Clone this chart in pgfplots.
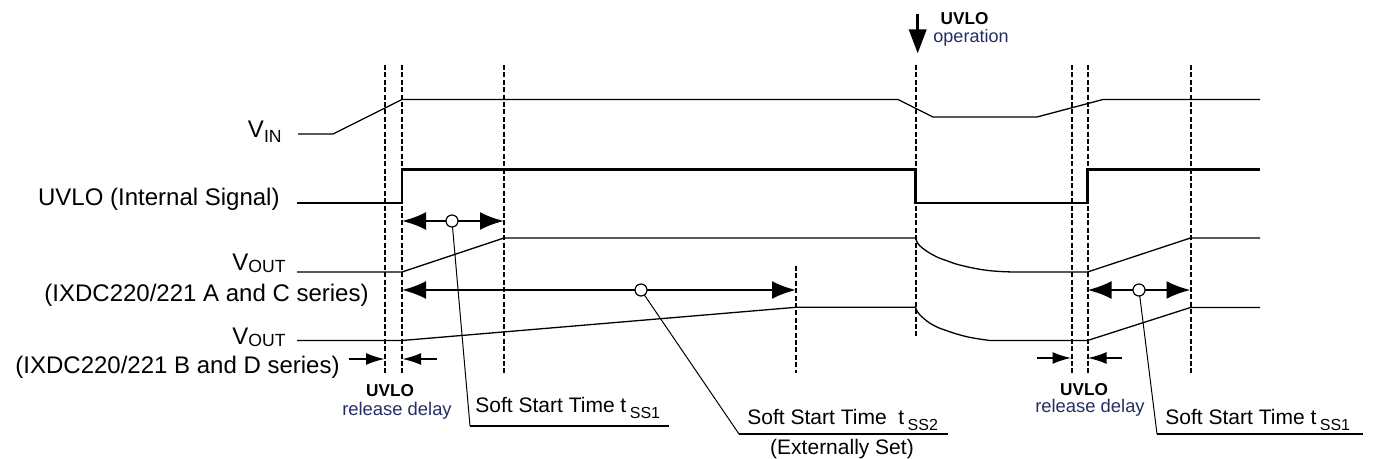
\documentclass[border=0pt]{standalone}
\usepackage{fontspec}
\setmainfont{Liberation Sans}
\usepackage{pgfplots}
\pgfplotsset{compat=1.18}
\usetikzlibrary{arrows.meta}
\definecolor{lbl}{RGB}{35,45,100}
\tikzset{
  wave/.style={black, line width=0.65pt},
  uvlo/.style={black, line width=1.2pt},
  dsh/.style={black, line width=1pt, dash pattern=on 2.5pt off 1.2pt},
  dim/.style={black, line width=1.3pt, {Latex[length=12pt,width=9pt]}-{Latex[length=12pt,width=9pt]}},
  rel/.style={black, line width=1.1pt, -{Latex[length=9.5pt,width=6pt]}},
  lead/.style={black, line width=0.5pt},
  uline/.style={black, line width=0.9pt},
  big/.style={inner sep=0pt, font=\fontsize{12}{14}\selectfont},
  small/.style={inner sep=0pt, font=\fontsize{9.2}{10}\selectfont},
  sst/.style={inner sep=0pt, font=\fontsize{10.5}{12}\selectfont},
}
\newcommand{\sub}[2]{\raisebox{#1}{\fontsize{8.8}{9}\selectfont #2}}
\newcommand{\ssub}[1]{\raisebox{-3pt}{\fontsize{8}{8}\selectfont #1}}
\begin{document}
\begin{tikzpicture}
\begin{axis}[width=688pt,height=229.5pt,scale only axis,hide axis,
  xmin=0,xmax=1376,ymin=0,ymax=459,y dir=reverse,clip=false]
% dashed guide lines
\addplot[dsh] coordinates {(385,65) (385,373)};
\addplot[dsh] coordinates {(402,65) (402,373)};
\addplot[dsh] coordinates {(504,65) (504,373)};
\addplot[dsh] coordinates {(796,266) (796,373)};
\addplot[dsh] coordinates {(915.5,65) (915.5,338)};
\addplot[dsh] coordinates {(1071.5,65) (1071.5,373)};
\addplot[dsh] coordinates {(1087.5,65) (1087.5,373)};
\addplot[dsh] coordinates {(1190.5,65) (1190.5,373)};
% VIN
\addplot[wave] coordinates {(298,134) (333,134) (402,99.5) (898,99.5) (933,117) (1037,117) (1103,99.5) (1260,99.5)};
% UVLO internal signal
\addplot[uvlo] coordinates {(297,203) (402,203) (402,169.5) (915.5,169.5) (915.5,203) (1087.5,203) (1087.5,169.5) (1260,169.5)};
% VOUT A/C
\addplot[wave] coordinates {(297,272) (402,272) (504,238) (915.5,238)};
\addplot[wave, smooth] coordinates {(915.5,238) (917,242) (920,246) (925,250) (930,253.3) (938,257.5) (946.7,260.7) (956,264) (966.7,266.7) (978,269) (990,270.7) (1002,271.6) (1013,272)};
\addplot[wave] coordinates {(1013,272) (1087.5,272) (1190.5,238) (1260,238)};
% VOUT B/D
\addplot[wave] coordinates {(297,340.5) (402,340.5) (796,307.3) (915.5,307.3)};
\addplot[wave, smooth] coordinates {(915.5,307.3) (917,311) (920,315) (925,319.5) (930,323.3) (938,327.5) (946.7,330.7) (956,333.8) (966.7,336.7) (978,338.8) (990,340.5)};
\addplot[wave] coordinates {(990,340.5) (1087.5,340.5) (1190.5,307.5) (1260,307.5)};
% dimension arrows
\addplot[dim] coordinates {(402,221) (504,221)};
\addplot[dim] coordinates {(402,290) (796,290)};
\addplot[dim] coordinates {(1087.5,290) (1190.5,290)};
% release delay arrows
\addplot[rel] coordinates {(349,359) (385,359)};
\addplot[rel] coordinates {(437,359) (402,359)};
\addplot[rel] coordinates {(1037,358) (1071.5,358)};
\addplot[rel] coordinates {(1122,358) (1087.5,358)};
% UVLO operation arrow
\addplot[black, line width=1.7pt, -{Triangle[length=12pt,width=8.5pt]}] coordinates {(917.7,14) (917.7,53.5)};
% leaders and underlines
\addplot[lead] coordinates {(452,221) (470,426)};
\addplot[uline] coordinates {(470,426) (669,426)};
\addplot[lead] coordinates {(641,290) (739,434)};
\addplot[uline] coordinates {(739,434) (948,434)};
\addplot[lead] coordinates {(1139,290) (1157,434)};
\addplot[uline] coordinates {(1157,434) (1363,434)};
% circles
\addplot[only marks, mark=*, mark size=3pt, mark options={fill=white, draw=black, line width=0.6pt}] coordinates {(452,221) (641,290) (1139,290)};
% labels
\node[big, anchor=base east] at (axis cs:282,138) {V\sub{-2.5pt}{IN}};
\node[big, anchor=base east] at (axis cs:280,206) {UVLO (Internal Signal)};
\node[big, anchor=base east] at (axis cs:286,271) {V\sub{-1pt}{OUT}};
\node[big, anchor=base east] at (axis cs:369,302) {(IXDC220/221 A and C series)};
\node[big, anchor=base east] at (axis cs:286,345) {V\sub{-1pt}{OUT}};
\node[big, anchor=base east] at (axis cs:340,374) {(IXDC220/221 B and D series)};
\node[small, anchor=base, font=\bfseries\fontsize{8.6}{10}\selectfont] at (axis cs:390,397) {UVLO};
\node[small, anchor=base, text=lbl] at (axis cs:397,416) {release delay};
\node[small, anchor=base, font=\bfseries\fontsize{8.6}{10}\selectfont] at (axis cs:1084,395.5) {UVLO};
\node[small, anchor=base, text=lbl] at (axis cs:1090,413) {release delay};
\node[small, anchor=base, font=\bfseries\fontsize{8.6}{10}\selectfont] at (axis cs:964.5,25) {UVLO};
\node[small, anchor=base, text=lbl, font=\fontsize{9}{10}\selectfont] at (axis cs:971,43) {operation};
\node[sst, anchor=base west] at (axis cs:475,413) {Soft Start Time t\,\ssub{SS1}};
\node[sst, anchor=base west] at (axis cs:747,425) {Soft Start Time\ \ t\,\ssub{SS2}};
\node[sst, anchor=base] at (axis cs:842,455) {(Externally Set)};
\node[sst, anchor=base west] at (axis cs:1165,425) {Soft Start Time t\,\ssub{SS1}};
\end{axis}
\pgfresetboundingbox
\path (current axis.south west) rectangle (current axis.north east);
\end{tikzpicture}
\end{document}
